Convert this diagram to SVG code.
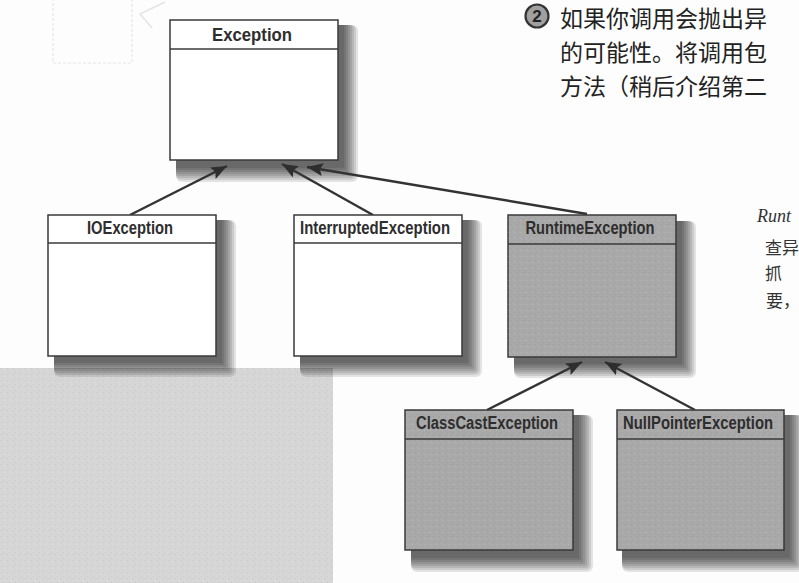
<svg xmlns="http://www.w3.org/2000/svg" xmlns:xlink="http://www.w3.org/1999/xlink" width="799" height="583" viewBox="0 0 799 583">
<style>
.box{stroke:#3a3a3a;stroke-width:1.5}
.white{fill:#ffffff}
.grey{fill:#a9a9a9}
.div{stroke:#3a3a3a;stroke-width:1.4;fill:none}
.lbl{font-family:"Liberation Sans",Arial,sans-serif;font-weight:bold;font-size:17.5px;fill:#2e2e2e}
.conn{stroke:#333;stroke-width:2.4;fill:none;marker-end:url(#tri)}
.cjk{font-family:"Noto Sans CJK SC",sans-serif;font-size:23px;fill:#222}
.hand{font-family:"Noto Sans CJK SC",sans-serif;font-size:17px;fill:#333}
.sl{fill:#000;opacity:0.1}
</style>
<defs>
<g id="shd">
<rect class="sl" x="6" y="5" width="182" height="157" rx="6"/>
<rect class="sl" x="6" y="5" width="180" height="155" rx="5"/>
<rect class="sl" x="6" y="5" width="178" height="153" rx="4"/>
<rect class="sl" x="6" y="5" width="176" height="151" rx="3"/>
<rect class="sl" x="6" y="5" width="174" height="149" rx="2"/>
<rect class="sl" x="6" y="5" width="172" height="147" rx="1"/>
<rect class="sl" x="6" y="5" width="170" height="145"/>
<rect class="sl" x="6" y="5" width="168" height="143"/>
</g>
<pattern id="speck" width="6" height="6" patternUnits="userSpaceOnUse">
<rect x="1" y="2" width="1" height="1" fill="#000" opacity="0.08"/>
<rect x="4" y="4" width="1" height="1" fill="#fff" opacity="0.15"/>
<rect x="3" y="0" width="1" height="1" fill="#000" opacity="0.06"/>
</pattern>
<marker id="tri" markerUnits="userSpaceOnUse" markerWidth="18" markerHeight="14" refX="16" refY="6.5" orient="auto">
<path d="M0,0 L16,6.5 L0,13 L3,6.5 z" fill="#2e2e2e"/>
</marker>
</defs>
<rect width="799" height="583" fill="#fdfdfd"/>

<!-- faint scan marks -->
<rect x="53" y="-2" width="79" height="65" fill="none" stroke="#e6e6e6" stroke-width="1.2" stroke-dasharray="3 2"/>
<path d="M165,2 L140,14 L152,28" fill="none" stroke="#e4e4e4" stroke-width="1.5"/>

<!-- grey bleed-through block -->
<rect x="0" y="368" width="333" height="215" fill="#d6d6d6"/>
<rect x="0" y="368" width="333" height="215" fill="url(#speck)"/>

<!-- top text -->
<g id="note-top">
<circle cx="537" cy="16" r="11.5" fill="#a0a0a0" stroke="#333" stroke-width="2.2"/>
<text x="537" y="22" text-anchor="middle" style="font-family:'Liberation Sans',Arial,sans-serif;font-weight:bold;font-size:17px;fill:#222">2</text>
<text class="cjk" x="560" y="27">如果你调用会抛出异</text>
<text class="cjk" x="560" y="61">的可能性。将调用包</text>
<text class="cjk" x="560" y="95">方法（稍后介绍第二</text>
</g>

<!-- handwritten side note -->
<g id="note-side">
<text x="757" y="222" style="font-family:'Liberation Serif',serif;font-style:italic;font-size:18px;fill:#333">Runt</text>
<text class="hand" x="765" y="254">查异</text>
<text class="hand" x="765" y="280">抓</text>
<text class="hand" x="766" y="307">要，</text>
</g>

<!-- drop shadows -->
<g id="shadows">
<use xlink:href="#shd" href="#shd" x="170" y="20"/>
<use xlink:href="#shd" href="#shd" x="48" y="215"/>
<use xlink:href="#shd" href="#shd" x="294" y="215"/>
<use xlink:href="#shd" href="#shd" x="508" y="216"/>
<use xlink:href="#shd" href="#shd" x="405" y="410"/>
<use xlink:href="#shd" href="#shd" x="616" y="410"/>
</g>

<g id="connectors">
<line class="conn" x1="130" y1="215" x2="227" y2="166"/>
<line class="conn" x1="373" y1="215" x2="282" y2="164"/>
<line class="conn" x1="587" y1="214" x2="307" y2="167"/>
<line class="conn" x1="487" y1="410" x2="582" y2="362"/>
<line class="conn" x1="695" y1="410" x2="605" y2="362"/>
</g>

<g id="exception">
<rect class="box white" x="170" y="20" width="168" height="140"/>
<line class="div" x1="170" y1="49" x2="338" y2="49"/>
<text class="lbl" x="252" y="41" text-anchor="middle" style="font-size:18.5px" textLength="80" lengthAdjust="spacingAndGlyphs">Exception</text>
</g>

<g id="ioexception">
<rect class="box white" x="48" y="215" width="168" height="141"/>
<line class="div" x1="48" y1="243" x2="216" y2="243"/>
<text class="lbl" x="130" y="234" text-anchor="middle" textLength="86" lengthAdjust="spacingAndGlyphs">IOException</text>
</g>

<g id="interruptedexception">
<rect class="box white" x="294" y="215" width="168" height="141"/>
<line class="div" x1="294" y1="243" x2="462" y2="243"/>
<text class="lbl" x="375" y="234" text-anchor="middle" textLength="150" lengthAdjust="spacingAndGlyphs">InterruptedException</text>
</g>

<g id="runtimeexception">
<rect class="box grey" x="508" y="215" width="168" height="142"/>
<rect x="508" y="215" width="168" height="142" fill="url(#speck)"/>
<line class="div" x1="508" y1="244" x2="676" y2="244"/>
<text class="lbl" x="590" y="234" text-anchor="middle" textLength="129" lengthAdjust="spacingAndGlyphs">RuntimeException</text>
</g>

<g id="classcastexception">
<rect class="box grey" x="405" y="410" width="168" height="140"/>
<rect x="405" y="410" width="168" height="140" fill="url(#speck)"/>
<line class="div" x1="405" y1="439" x2="573" y2="439"/>
<text class="lbl" x="487" y="429" text-anchor="middle" textLength="142" lengthAdjust="spacingAndGlyphs">ClassCastException</text>
</g>

<g id="nullpointerexception">
<rect class="box grey" x="617" y="410" width="167" height="140"/>
<rect x="617" y="410" width="167" height="140" fill="url(#speck)"/>
<line class="div" x1="617" y1="439" x2="784" y2="439"/>
<text class="lbl" x="698" y="429" text-anchor="middle" textLength="150" lengthAdjust="spacingAndGlyphs">NullPointerException</text>
</g>
</svg>
